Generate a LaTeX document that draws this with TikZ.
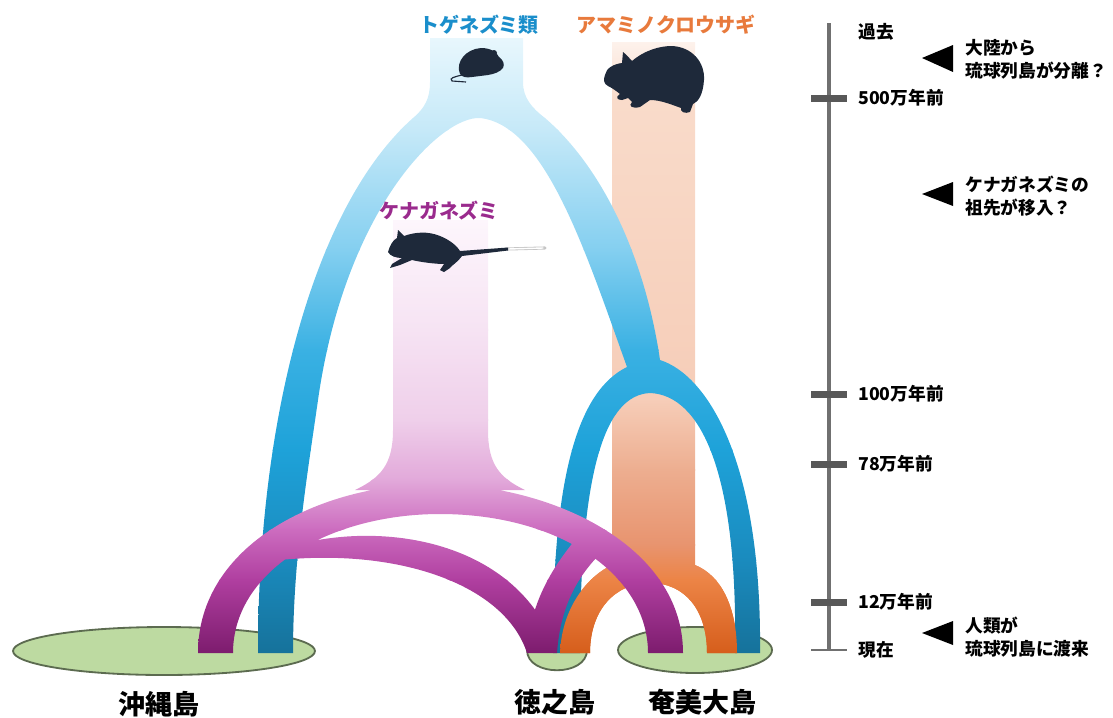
\documentclass[tikz,border=0pt]{standalone}
\usepackage{fontspec}
\setmainfont{Noto Sans CJK JP}
\usetikzlibrary{positioning}
\definecolor{tgeblue}{HTML}{1A8ECB}
\definecolor{amaorange}{HTML}{E87A3C}
\definecolor{kenpurple}{HTML}{9A2B8D}
\definecolor{landfill}{HTML}{BDDAA1}
\definecolor{landedge}{HTML}{5C6B50}
\definecolor{animal}{HTML}{1E293A}
\definecolor{scalegray}{HTML}{707070}
\definecolor{tickgray}{HTML}{585858}
% gradient stops, top to bottom
\definecolor{bA}{HTML}{E8F7FD}\definecolor{bB}{HTML}{C6E9F8}\definecolor{bC}{HTML}{84CFF0}
\definecolor{bD}{HTML}{3AB1E3}\definecolor{bE}{HTML}{1EA2D9}\definecolor{bF}{HTML}{1A8BBE}\definecolor{bG}{HTML}{16729B}
\definecolor{oA}{HTML}{FDF2EC}\definecolor{oB}{HTML}{F9DBCA}\definecolor{oC}{HTML}{F6CDB8}
\definecolor{oD}{HTML}{EDAE90}\definecolor{oE}{HTML}{E8946F}\definecolor{oF}{HTML}{EC8446}\definecolor{oG}{HTML}{D65E1C}
\definecolor{pA}{HTML}{FDF6FC}\definecolor{pB}{HTML}{F6E3F3}\definecolor{pC}{HTML}{EFCFEA}
\definecolor{pD}{HTML}{E2A9DA}\definecolor{pE}{HTML}{CC6CBF}\definecolor{pF}{HTML}{B03FA0}\definecolor{pG}{HTML}{7D1C6E}
\tikzset{land/.style={draw=landedge,fill=landfill,line width=1.3pt},title/.style={font=\fontsize{14.2}{17}\selectfont\bfseries,inner sep=0pt},yearlab/.style={anchor=west,font=\fontsize{12.6}{15}\selectfont\bfseries,inner sep=0pt},note/.style={anchor=west,align=left,font=\fontsize{12.6}{16.4}\selectfont\bfseries,inner sep=0pt},place/.style={font=\fontsize{19.2}{22}\selectfont\bfseries,inner sep=0pt},tickbar/.style={fill=tickgray},marker/.style={fill=black},animalshape/.style={fill=animal}}

\begin{document}
\begin{tikzpicture}[x=0.25mm,y=-0.25mm]
\useasboundingbox (0,0) rectangle (1113,717);
% islands
\draw[land] (164,651) ellipse[x radius=151,y radius=24];
\draw[land] (695,650) ellipse[x radius=77,y radius=23];
\draw[land] (527,650) .. controls (527,677) and (587,677) .. (587,650) -- cycle;
% rabbit column
\begin{scope}
\clip (560,653) .. controls (562,605) and (590,575) .. (612,565) -- (612,42) -- (695,42) -- (695,565) .. controls (720,575) and (737,605) .. (737,653) -- (707,653) .. controls (707,610) and (685,583) .. (650,583) .. controls (615,583) and (590,610) .. (590,653) -- cycle;
\foreach \ya/\yb/\ca/\cb in {42/100/oA/oB,100/400/oB/oC,400/470/oC/oD,470/545/oD/oE,545/580/oE/oF,580/653/oF/oG}
  \shade[top color=\ca,bottom color=\cb] (0,\ya-0.6) rectangle (1113,\yb);
\end{scope}
% spiny rat lineage
\begin{scope}
\clip (258,653) .. controls (258,415) and (315,205) .. (413,118) .. controls (425,108) and (430,98) .. (430,82) -- (430,38) -- (523,38) -- (523,82) .. controls (523,98) and (532,108) .. (545,118) .. controls (603,168) and (645,258) .. (660,360) .. controls (707,375) and (762,460) .. (760,653) -- (735,653) .. controls (738,470) and (700,395) .. (650,393) .. controls (605,395) and (580,470) .. (580,653) -- (553,653) .. controls (552,470) and (580,390) .. (627,367) .. controls (585,250) and (545,125) .. (480,118) .. controls (440,116) and (345,210) .. (318,400) .. controls (307,477) and (293,560) .. (293,653) -- cycle;
\foreach \ya/\yb/\ca/\cb in {38/130/bA/bB,130/250/bB/bC,250/350/bC/bD,350/450/bD/bE,450/560/bE/bF,560/653/bF/bG}
  \shade[top color=\ca,bottom color=\cb] (0,\ya-0.6) rectangle (1113,\yb);
\end{scope}
% rabbit arch over the blue legs
\begin{scope}
\clip (0,548) rectangle (1113,717);
\clip (560,653) .. controls (562,605) and (590,575) .. (612,565) -- (695,565) .. controls (720,575) and (737,605) .. (737,653) -- (707,653) .. controls (707,610) and (685,583) .. (650,583) .. controls (615,583) and (590,610) .. (590,653) -- cycle;
\foreach \ya/\yb/\ca/\cb in {42/100/oA/oB,100/400/oB/oC,400/470/oC/oD,470/545/oD/oE,545/580/oE/oF,580/653/oF/oG}
  \shade[top color=\ca,bottom color=\cb] (0,\ya-0.6) rectangle (1113,\yb);
\end{scope}
% long-haired rat lineage
\begin{scope}
\clip (393,220) -- (488,220) -- (488,430) .. controls (488,465) and (500,478) .. (525,490) -- (355,490) .. controls (380,478) and (393,465) .. (393,430) -- cycle
  (198,653) .. controls (198,545) and (320,484) .. (435,484) .. controls (550,484) and (683,545) .. (683,653) -- (648,653) .. controls (648,575) and (560,514) .. (440,514) .. controls (330,514) and (233,570) .. (233,653) -- cycle
  (285,548) .. controls (380,518) and (520,540) .. (557,653) -- (527,653) .. controls (505,585) and (400,548) .. (280,560) -- cycle
  (527,653) .. controls (530,600) and (555,565) .. (575,540) -- (598,556) .. controls (575,580) and (560,610) .. (557,653) -- cycle;
\foreach \ya/\yb/\ca/\cb in {220/330/pA/pB,330/420/pB/pC,420/480/pC/pD,480/530/pD/pE,530/580/pE/pF,580/653/pF/pG}
  \shade[top color=\ca,bottom color=\cb] (0,\ya-0.6) rectangle (1113,\yb);
\end{scope}
% animals
\fill[animalshape] (460,74) .. controls (455,62) and (466,49) .. (481,48) .. controls (492,48) and (497,53) .. (499,57) .. controls (503,60) and (505,64) .. (503,68) .. controls (500,72) and (494,74) .. (488,75) -- (472,77) .. controls (466,78) and (462,77) .. (460,74) -- cycle;
\fill[animalshape] (494,53) circle[radius=3];
\draw[animal,line width=0.8pt] (462,75) .. controls (454,77) and (449,78) .. (452,81) -- (466,82);
\fill[animalshape] (605,75) .. controls (606,68) and (614,64) .. (622,63) -- (623,52) .. controls (627,55) and (630,59) .. (632,61) .. controls (645,50) and (660,46) .. (672,46) .. controls (692,47) and (705,62) .. (704,80) .. controls (703,95) and (698,102) .. (693,104) -- (690,112) .. controls (685,114) and (680,112) .. (681,108) .. controls (670,104) and (660,100) .. (650,100) -- (640,107) .. controls (632,109) and (628,106) .. (632,102) -- (628,98) -- (622,100) .. controls (617,100) and (615,97) .. (620,94) .. controls (615,90) and (612,88) .. (608,86) .. controls (604,84) and (603,80) .. (605,75) -- cycle;
\draw[gray!45,line width=2.2pt,line cap=round] (506,249) -- (545,248);
\draw[white,line width=1pt,line cap=round] (508,249) -- (543,248);
\fill[animalshape] (388,252) .. controls (390,245) and (393,240) .. (397,238) -- (398,230) -- (404,236) .. controls (415,232) and (428,231) .. (440,236) .. controls (450,240) and (457,246) .. (460,251) -- (508,247.5) -- (508,250.5) -- (462,256) .. controls (458,262) and (452,265) .. (450,268) -- (444,272) -- (440,270) -- (444,264) .. controls (435,264) and (420,262) .. (412,260) -- (400,265) -- (390,268) -- (392,264) -- (402,258) .. controls (396,258) and (390,256) .. (388,252) -- cycle;
% titles
\node[title,text=tgeblue] (tge) at (479,25) {トゲネズミ類};
\node[title,text=amaorange] (ama) at (666,25) {アマミノクロウサギ};
\node[title,text=kenpurple] (ken) at (439,211) {ケナガネズミ};
% time scale
\draw[scalegray,line width=2.2pt] (829,23) -- (829,650);
\foreach \y/\lab in {98/500万年前,394/100万年前,464/78万年前,602/12万年前}{
  \fill[tickbar] (811,\y-3.5) rectangle (847,\y+3.5);
  \node[yearlab] (yr\y) at (858,\y) {\lab};
}
\draw[scalegray,line width=1.6pt] (811,650) -- (847,650);
\node[yearlab] (now) at (858,650) {現在};
\node[yearlab] (past) at (858,32) {過去};
\fill[marker] (922,58) -- (953,45) -- (953,72) -- cycle;
\fill[marker] (922,194) -- (953,182) -- (953,206) -- cycle;
\fill[marker] (922,633) -- (953,621) -- (953,645) -- cycle;
\node[note] (split) at (965,59) {大陸から\\琉球列島が分離？};
\node[note] (arrive) at (965,196) {ケナガネズミの\\祖先が移入？};
\node[note] (human) at (965,637) {人類が\\琉球列島に渡来};
% island names
\node[place] (oki) at (159,704) {沖縄島};
\node[place] (tok) at (555,702) {徳之島};
\node[place] (ami) at (702,702) {奄美大島};
\end{tikzpicture}
\end{document}
